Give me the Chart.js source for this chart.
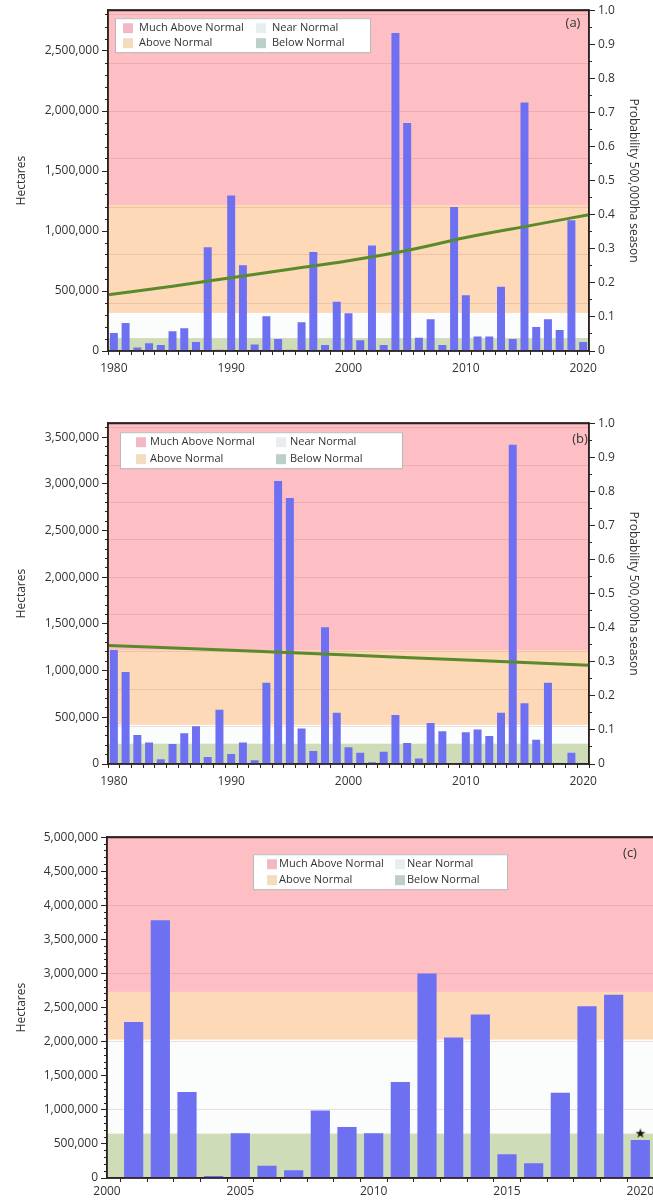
<!DOCTYPE html>
<html lang="en">
  <head>
    <meta charset="UTF-8" />
    <title>Burned area by season</title>
    <script src="https://cdn.jsdelivr.net/npm/chart.js"></script>
    <style>
      body { margin: 0; background: #fff; overflow: hidden; }
      .page { position: relative; width: 653px; height: 1202px; overflow: hidden; }
      .panel { position: absolute; left: 0; }
      canvas { display: block; }
    </style>
  </head>

  <body>
    <div class="page">
      <div class="panel" style="top: 0px"><canvas id="chartA" width="653" height="392"></canvas></div>
      <div class="panel" style="top: 413px"><canvas id="chartB" width="653" height="392"></canvas></div>
      <div class="panel" style="top: 827px"><canvas id="chartC" width="680" height="375"></canvas></div>
    </div>

    <script>
      // ---- data ----
      const yearsAB = [
        1980, 1981, 1982, 1983, 1984, 1985, 1986, 1987, 1988, 1989,
        1990, 1991, 1992, 1993, 1994, 1995, 1996, 1997, 1998, 1999,
        2000, 2001, 2002, 2003, 2004, 2005, 2006, 2007, 2008, 2009,
        2010, 2011, 2012, 2013, 2014, 2015, 2016, 2017, 2018, 2019, 2020
      ];
      const hectaresA = [
        150000, 233000, 30000, 65000, 50000, 165000, 190000, 75000, 865000, 10000,
        1295000, 715000, 55000, 290000, 100000, 10000, 240000, 825000, 50000, 410000,
        315000, 90000, 880000, 50000, 2650000, 1900000, 110000, 265000, 50000, 1200000,
        465000, 120000, 120000, 535000, 100000, 2070000, 200000, 265000, 175000, 1090000, 75000
      ];
      const hectaresB = [
        1220000, 985000, 310000, 230000, 50000, 215000, 330000, 405000, 75000, 580000,
        107000, 230000, 40000, 870000, 3030000, 2850000, 380000, 140000, 1465000, 550000,
        180000, 120000, 20000, 130000, 525000, 225000, 60000, 440000, 350000, 10000,
        340000, 370000, 300000, 550000, 3420000, 650000, 260000, 870000, 0, 120000, 0
      ];
      const probYearsA = [1979.5, 1985, 1990, 1995, 2000, 2005, 2010, 2015, 2020.5];
      const probA = [0.165, 0.19, 0.215, 0.24, 0.265, 0.295, 0.333, 0.365, 0.4];
      const probYearsB = [1979.5, 1990, 2000, 2010, 2020.5];
      const probB = [0.348, 0.334, 0.32, 0.305, 0.29];

      const yearsC = [
        2001, 2002, 2003, 2004, 2005, 2006, 2007, 2008, 2009, 2010,
        2011, 2012, 2013, 2014, 2015, 2016, 2017, 2018, 2019, 2020
      ];
      const hectaresC = [
        2290000, 3780000, 1260000, 30000, 655000, 180000, 115000, 990000, 750000, 655000,
        1410000, 3000000, 2060000, 2400000, 350000, 215000, 1250000, 2520000, 2690000, 557000
      ];
      const starYears = [2020];
      const starHectares = [650000];

      // tick labels
      const hectareTicksA = [0, 500000, 1000000, 1500000, 2000000, 2500000];
      const hectareTicksB = [0, 500000, 1000000, 1500000, 2000000, 2500000, 3000000, 3500000];
      const hectareTicksC = [0, 500000, 1000000, 1500000, 2000000, 2500000, 3000000, 3500000, 4000000, 4500000, 5000000];

      // upper limits of Below / Near / Above normal
      const limitsA = [108000, 317000, 1217000];
      const limitsB = [220000, 420000, 1220000];
      const limitsC = [655000, 2030000, 2730000];

      const legendLabels = ["Below Normal", "Near Normal", "Above Normal", "Much Above Normal"];
      const bandColors = ["#cfdcb8", "#fbfcfc", "#fdd9b8", "#fdbfc4"];
      const swatchColors = ["#bccfcb", "#e8eef0", "#f3dcc0", "#f2b8c4"];

      const ink = "#333";
      const axisInk = "#2b2222";
      const fontFam = "'Open Sans', 'DejaVu Sans', sans-serif";

      const toPoints = (xs, ys) => xs.map((x, i) => ({ x: x, y: ys[i] }));
      const fmt = (v) => v.toLocaleString("en-US");
      const steps = (from, to, step) => {
        const out = [];
        for (let v = from; v <= to + step / 1000; v += step) out.push(Math.round(v * 1e6) / 1e6);
        return out;
      };
      const fixTicks = (values) => (s) => { s.ticks = values.map((v) => ({ value: v })); };

      // bands behind everything, then frame + legend + panel letter on top
      const bandsPlugin = {
        id: "bands",
        beforeDraw(chart, args, opts) {
          const { ctx, chartArea: a } = chart;
          const y = chart.scales.y;
          const edges = [y.min, ...opts.limits, y.max];
          ctx.save();
          for (let i = 0; i < 4; i++) {
            const top = y.getPixelForValue(edges[i + 1]);
            const bottom = y.getPixelForValue(edges[i]);
            ctx.fillStyle = bandColors[i];
            ctx.fillRect(a.left, top, a.right - a.left, bottom - top);
          }
          ctx.restore();
        },
        afterDraw(chart, args, opts) {
          const { ctx, chartArea: a } = chart;
          ctx.save();
          ctx.strokeStyle = axisInk;
          ctx.lineWidth = 2;
          ctx.beginPath();
          ctx.moveTo(a.left, a.top);
          ctx.lineTo(a.right, a.top);
          ctx.stroke();
          ctx.lineWidth = 1.5;
          ctx.strokeRect(a.left, a.top, a.right - a.left, a.bottom - a.top);

          const L = opts.legend;
          const bx = a.left + L.dx;
          const by = a.top + L.dy;
          ctx.fillStyle = "#fff";
          ctx.fillRect(bx, by, L.w, L.h);
          ctx.strokeStyle = "#b8b8b8";
          ctx.lineWidth = 1;
          ctx.strokeRect(bx + 0.5, by + 0.5, L.w, L.h);
          const items = [
            [3, L.c1, L.r1], [2, L.c1, L.r2],
            [1, L.c2, L.r1], [0, L.c2, L.r2]
          ];
          ctx.font = "11px " + fontFam;
          ctx.textBaseline = "middle";
          ctx.textAlign = "left";
          items.forEach(([k, cx, ry]) => {
            ctx.fillStyle = swatchColors[k];
            ctx.fillRect(bx + cx, by + ry - 5, 10, 10);
            ctx.fillStyle = ink;
            ctx.fillText(legendLabels[k], bx + cx + L.gap, by + ry);
          });

          ctx.font = "13px " + fontFam;
          ctx.textAlign = "center";
          ctx.fillStyle = ink;
          ctx.fillText(opts.tag.text, a.left + opts.tag.dx, a.top + opts.tag.dy);
          ctx.restore();
        }
      };

      const tickFont = { family: fontFam, size: 12 };
      const titleFont = { family: fontFam, size: 12 };

      function leftAxes(yMax, labelTicks, gridStep, width) {
        return {
          y: {
            type: "linear", position: "left", min: 0, max: yMax, weight: 1,
            afterBuildTicks: fixTicks(labelTicks),
            afterFit: (s) => { s.width = width; },
            ticks: { color: ink, font: tickFont, padding: 3, callback: (v) => fmt(v) },
            grid: { drawOnChartArea: false, drawTicks: true, tickLength: 6, color: axisInk },
            border: { color: axisInk, width: 1.5 },
            title: { display: true, text: "Hectares", color: ink, font: titleFont }
          },
          yGrid: {
            type: "linear", position: "left", min: 0, max: yMax, weight: -1,
            afterBuildTicks: fixTicks(steps(0, yMax, gridStep)),
            afterFit: (s) => { s.width = 0; },
            ticks: { display: false },
            grid: { drawTicks: false, color: "rgba(170, 70, 70, 0.16)", lineWidth: 1 },
            border: { display: false }
          },
          yMinor: {
            type: "linear", position: "left", min: 0, max: yMax, weight: -2,
            afterBuildTicks: fixTicks(steps(0, yMax, 100000)),
            afterFit: (s) => { s.width = 0; },
            ticks: { display: false },
            grid: { drawOnChartArea: false, drawTicks: true, tickLength: 3, color: axisInk },
            border: { display: false }
          }
        };
      }

      function yearPanel(id, values, probYears, prob, yMax, labelTicks, limits, legend, tag) {
        const scales = leftAxes(yMax, labelTicks, 400000, 98);
        scales.x = {
          type: "linear", min: 1979.5, max: 2020.5, offset: false,
          afterBuildTicks: fixTicks(yearsAB),
          afterFit: (s) => { s.height = 41; },
          ticks: {
            autoSkip: false, maxRotation: 0, padding: 6, color: ink, font: tickFont,
            callback: (v) => (v % 10 === 0 ? String(v) : "")
          },
          grid: { drawOnChartArea: false, drawTicks: true, tickLength: 4, color: axisInk },
          border: { color: axisInk, width: 1.5 }
        };
        scales.y1 = {
          type: "linear", position: "right", min: 0, max: 1, weight: 0,
          afterBuildTicks: fixTicks(steps(0, 1, 0.1)),
          afterFit: (s) => { s.width = 56; },
          ticks: {
            color: ink, font: tickFont, padding: 3,
            callback: (v) => (v === 0 ? "0" : v.toFixed(1))
          },
          grid: { drawOnChartArea: false, drawTicks: true, tickLength: 6, color: axisInk },
          border: { color: axisInk, width: 1.5 },
          title: { display: true, text: "Probability 500,000ha season", color: ink, font: titleFont }
        };
        scales.y1Minor = {
          type: "linear", position: "right", min: 0, max: 1, weight: -1,
          afterBuildTicks: fixTicks(steps(0, 1, 0.05)),
          afterFit: (s) => { s.width = 0; },
          ticks: { display: false },
          grid: { drawOnChartArea: false, drawTicks: true, tickLength: 3, color: axisInk },
          border: { display: false }
        };

        return new Chart(document.getElementById(id), {
          type: "bar",
          data: {
            datasets: [
              {
                type: "line",
                data: toPoints(probYears, prob),
                yAxisID: "y1",
                borderColor: "#5a8a2b",
                borderWidth: 3,
                pointRadius: 0,
                tension: 0.4,
                cubicInterpolationMode: "monotone",
                order: 0
              },
              {
                data: toPoints(yearsAB, values),
                yAxisID: "y",
                backgroundColor: "#6e70f2",
                categoryPercentage: 0.8,
                barPercentage: 0.85,
                order: 1
              }
            ]
          },
          options: {
            responsive: false,
            animation: false,
            layout: { padding: { left: 10, right: 8, top: 10, bottom: 0 } },
            scales: scales,
            plugins: {
              legend: { display: false },
              tooltip: { enabled: false },
              bands: { limits: limits, legend: legend, tag: tag }
            }
          },
          plugins: [bandsPlugin]
        });
      }

      yearPanel("chartA", hectaresA, probYearsA, probA, 2840000, hectareTicksA, limitsA,
        { dx: 7, dy: 8, w: 255, h: 34, c1: 8, c2: 141, r1: 10, r2: 25, gap: 16 },
        { text: "(a)", dx: 465, dy: 13 });

      yearPanel("chartB", hectaresB, probYearsB, probB, 3650000, hectareTicksB, limitsB,
        { dx: 12, dy: 9, w: 282, h: 36, c1: 16, c2: 156, r1: 10, r2: 27, gap: 14 },
        { text: "(b)", dx: 472, dy: 16 });

      // star marker for the partial 2020 season
      const starImg = document.createElement("canvas");
      starImg.width = 14;
      starImg.height = 14;
      const sctx = starImg.getContext("2d");
      sctx.fillStyle = "#111";
      sctx.font = "13px 'DejaVu Sans'";
      sctx.textAlign = "center";
      sctx.textBaseline = "middle";
      sctx.fillText("★", 7, 7.5);

      const scalesC = leftAxes(5000000, hectareTicksC, 1000000, 97);
      scalesC.x = {
        type: "linear", min: 2000, max: 2021, offset: false,
        afterBuildTicks: fixTicks(steps(2000, 2021, 1)),
        afterFit: (s) => { s.height = 24; },
        ticks: {
          autoSkip: false, maxRotation: 0, padding: 2, color: ink, font: tickFont,
          callback: (v) => (v % 5 === 0 ? String(v) : "")
        },
        grid: { drawOnChartArea: false, drawTicks: true, tickLength: 4, color: axisInk },
        border: { color: axisInk, width: 1.5 }
      };

      new Chart(document.getElementById("chartC"), {
        type: "bar",
        data: {
          datasets: [
            {
              type: "line",
              data: toPoints(starYears, starHectares),
              yAxisID: "y",
              showLine: false,
              pointStyle: starImg,
              pointRadius: 7,
              order: 0
            },
            {
              data: toPoints(yearsC, hectaresC),
              yAxisID: "y",
              backgroundColor: "#6e70f2",
              categoryPercentage: 0.8,
              barPercentage: 0.9,
              order: 1
            }
          ]
        },
        options: {
          responsive: false,
          animation: false,
          layout: { padding: { left: 10, right: 13, top: 10, bottom: 0 } },
          scales: scalesC,
          plugins: {
            legend: { display: false },
            tooltip: { enabled: false },
            bands: {
              limits: limitsC,
              legend: { dx: 146, dy: 17, w: 254, h: 35, c1: 14, c2: 142, r1: 10, r2: 26, gap: 12 },
              tag: { text: "(c)", dx: 523, dy: 16 }
            }
          }
        },
        plugins: [bandsPlugin]
      });
    </script>
  </body>
</html>
